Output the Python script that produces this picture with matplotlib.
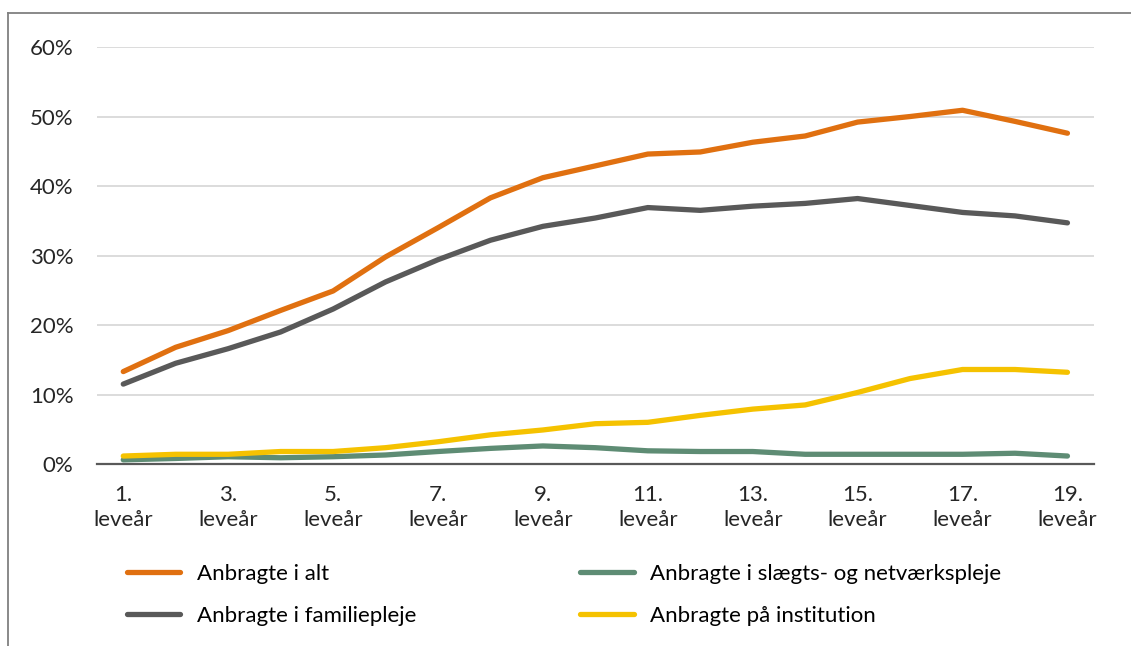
import numpy as np
import matplotlib.pyplot as plt
from matplotlib.lines import Line2D

plt.rcParams['font.family'] = ['Lato', 'DejaVu Sans']

years = list(range(1, 20))
x_labels = [f'{y}.\nleveår' if y % 2 == 1 else '' for y in years]

# andel anbragte (%) pr. leveår
alt = [13.3, 16.8, 19.2, 22.1, 24.9, 29.8, 34.0, 38.3, 41.2, 42.9,
       44.6, 44.9, 46.3, 47.2, 49.2, 50.0, 50.9, 49.3, 47.6]
familiepleje = [11.5, 14.5, 16.6, 19.0, 22.3, 26.2, 29.4, 32.2, 34.2, 35.4,
                36.9, 36.5, 37.1, 37.5, 38.2, 37.2, 36.2, 35.7, 34.7]
slaegt = [0.6, 0.8, 1.05, 0.9, 1.05, 1.3, 1.8, 2.25, 2.6, 2.35,
          1.9, 1.8, 1.8, 1.4, 1.4, 1.4, 1.4, 1.55, 1.15]
institution = [1.15, 1.4, 1.4, 1.8, 1.8, 2.35, 3.2, 4.2, 4.9, 5.8,
               6.0, 7.0, 7.9, 8.5, 10.3, 12.3, 13.6, 13.6, 13.2]

series = [
    ('Anbragte i alt', alt, '#E07010'),
    ('Anbragte i familiepleje', familiepleje, '#595959'),
    ('Anbragte i slægts- og netværkspleje', slaegt, '#5E8C74'),
    ('Anbragte på institution', institution, '#F5C200'),
]

fig = plt.figure(figsize=(11.31, 6.46), dpi=100)
ax = fig.add_axes([0.0858, 0.2817, 0.8812, 0.6455])

x = np.arange(len(years))
handles = []
for label, vals, color in series:
    h, = ax.plot(x, vals, color=color, lw=3.8, solid_capstyle='round',
                 solid_joinstyle='round', label=label)
    handles.append(h)

ax.set_xlim(-0.5, len(years) - 0.5)
ax.set_ylim(0, 60)
ax.set_yticks(np.arange(0, 61, 10))
ax.set_yticklabels([f'{v}%' for v in range(0, 61, 10)])
ax.set_xticks(x)
ax.set_xticklabels(x_labels, linespacing=1.3)
ax.tick_params(axis='both', length=0, labelsize=16, colors='#262626')
ax.tick_params(axis='y', pad=17)
ax.tick_params(axis='x', pad=15)

ax.grid(axis='y', color='#d9d9d9', lw=1.3)
ax.set_axisbelow(True)
for side in ['top', 'right', 'left']:
    ax.spines[side].set_visible(False)
ax.spines['bottom'].set_color('#595959')
ax.spines['bottom'].set_linewidth(1.6)
ax.spines['bottom'].set_zorder(1)

fig.legend(handles=handles, loc='upper left', bbox_to_anchor=(0.112, 0.127),
           ncol=2, frameon=False, fontsize=16, handlelength=2.4,
           handletextpad=0.75, columnspacing=7.4, labelspacing=1.0,
           borderaxespad=0, borderpad=0)

# ramme om figuren
fig.add_artist(Line2D([8 / 1131, 1], [1 - 13 / 646, 1 - 13 / 646],
                      color='#808080', lw=1.3, transform=fig.transFigure))
fig.add_artist(Line2D([8 / 1131, 8 / 1131], [0, 1 - 13 / 646],
                      color='#808080', lw=1.3, transform=fig.transFigure))

fig.savefig('out.png', dpi=100)
